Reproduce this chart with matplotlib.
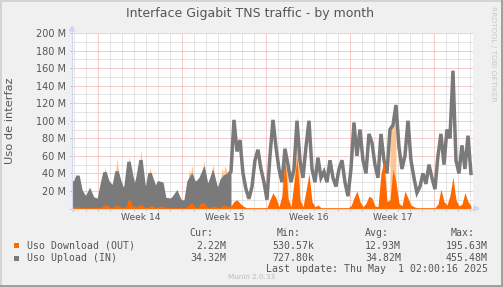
import numpy as np
import matplotlib
matplotlib.use('Agg')
import matplotlib.pyplot as plt
from matplotlib.patches import Rectangle, Polygon
from matplotlib.lines import Line2D

W, H = 503, 287

# traffic in M, one value every 6 hours from the left edge of the graph
upload = [30, 28, 37, 20, 14, 12, 19, 11, 10, 8,
          26, 41, 30, 26, 24, 42, 30, 21, 24, 53,
          35, 21, 35, 55, 26, 20, 40, 30, 21, 29,
          28, 10, 10, 9, 12, 17, 9, 7, 8, 30,
          36, 28, 30, 34, 42, 26, 28, 38, 25, 20,
          32, 36, 38, 42, 101, 65, 78, 40, 22, 11,
          25, 55, 67, 45, 30, 10, 60, 101, 70, 45,
          30, 68, 50, 30, 45, 100, 55, 35, 70, 100,
          45, 30, 58, 35, 42, 30, 55, 35, 25, 45,
          55, 30, 14, 45, 98, 60, 90, 55, 40, 85,
          75, 50, 35, 85, 55, 40, 90, 95, 118, 70,
          45, 60, 100, 55, 35, 18, 25, 40, 28, 50,
          35, 22, 60, 85, 50, 90, 80, 157, 55, 40,
          72, 45, 83, 40]
download = [2, 1, 2, 1, 1, 1, 1, 1, 1, 1,
            2, 5, 3, 1, 2, 4, 2, 1, 2, 12,
            4, 2, 3, 5, 2, 1, 3, 3, 1, 2,
            3, 1, 1, 1, 1, 1, 1, 1, 1, 5,
            6, 2, 1, 7, 6, 2, 1, 3, 2, 1,
            3, 4, 2, 3, 8, 10, 6, 3, 1, 1,
            1, 1, 1, 1, 1, 1, 10, 18, 12, 2,
            15, 55, 12, 2, 30, 58, 10, 2, 20, 40,
            8, 2, 4, 1, 1, 1, 1, 1, 1, 1,
            1, 1, 1, 3, 12, 20, 8, 2, 6, 14,
            12, 3, 2, 40, 55, 8, 10, 45, 30, 6,
            3, 20, 12, 4, 2, 1, 1, 1, 1, 1,
            1, 1, 5, 22, 8, 4, 15, 36, 10, 3,
            5, 18, 8, 3]
# short download peaks showing above the upload curve
peak_idx = [11, 15, 19, 23, 26, 39, 40, 44, 47, 50, 51, 71, 75, 107]
peak_val = [47, 57, 60, 67, 47, 44, 49, 55, 51, 46, 49, 72, 108, 100]
filled_until = 54

y_ticks = [20, 40, 60, 80, 100, 120, 140, 160, 180, 200]
week_names = ['Week 14', 'Week 15', 'Week 16', 'Week 17']
first_week = 2.17
span = 33.42

names = ['Uso Download (OUT)', 'Uso Upload (IN)']
cur = ['2.22M', '34.32M']
mins = ['530.57k', '727.80k']
avgs = ['12.93M', '34.82M']
maxs = ['195.63M', '455.48M']

c_out = '#ff6a00'
c_in = '#7a7a7a'
c_peak = '#ffc590'
c_axis = '#cfd6f8'
c_font = '#555555'

def px(x, y):
    return x / W, 1 - y / H

t = np.arange(len(upload)) * 0.25
upload = np.array(upload, dtype=float)
download = np.array(download, dtype=float)

fig = plt.figure(figsize=(W / 100, H / 100), dpi=100)
fig.patch.set_facecolor('#f0f0f0')
ax = fig.add_axes([72 / W, 1 - 208.5 / H, 401 / W, 175.5 / H])
ax.set_facecolor('white')
ax.set_xlim(0, span)
ax.set_ylim(0, 200)
for s in ax.spines.values():
    s.set_visible(False)

# grid
days = [first_week + k for k in range(-2, 32) if 0 < first_week + k < span]
weeks = [first_week + 7 * k for k in range(5)]
for v in range(10, 200, 20):
    ax.axhline(v, color='#cccccc', lw=0.72, ls=(0, (1, 1)), zorder=0.5)
for v in y_ticks:
    ax.axhline(v, color='#f09a9a', lw=0.72, ls=(0, (1, 1)), zorder=0.6)
for d in days:
    if min(abs(d - w) for w in weeks) > 0.1:
        ax.axvline(d, color='#cccccc', lw=0.72, ls=(0, (1, 1)), zorder=0.5)
for w in weeks:
    ax.axvline(w, color='#f09a9a', lw=0.72, ls=(0, (1, 1)), zorder=0.6)

# data
for i, v in zip(peak_idx, peak_val):
    ax.fill_between(t[i - 1:i + 2], 0, [upload[i - 1], v, upload[i + 1]],
                    color=c_peak, lw=0, zorder=1)
ax.fill_between(t[:filled_until], 0, upload[:filled_until], color=c_in, lw=0, zorder=2)
ax.plot(t, upload, color=c_in, lw=2.5, zorder=3, solid_joinstyle='miter')
ax.fill_between(t, 0, download, color=c_out, lw=0, zorder=4)

ax.set_xticks(days)
ax.set_xticklabels([])
ax.set_yticks(y_ticks)
ax.set_yticklabels(['%d M' % v for v in y_ticks])
ax.tick_params(axis='both', length=1.5, width=0.72, color='#bbbbbb',
               labelcolor=c_font, labelsize=7, pad=3)
for i, name in enumerate(week_names):
    ax.text(first_week + 7 * i + 3.6, -5, name, ha='center', va='top',
            fontsize=6.6, color=c_font)

# axes with arrows
fig.add_artist(Line2D([72 / W, 72 / W], [1 - 211 / H, 1 - 30 / H], color=c_axis, lw=0.8))
fig.add_artist(Line2D([69 / W, 475 / W], [1 - 208.5 / H, 1 - 208.5 / H], color=c_axis, lw=0.8))
fig.add_artist(Polygon([px(69.5, 31), px(74.5, 31), px(72, 26)], closed=True, color=c_axis))
fig.add_artist(Polygon([px(474, 206), px(474, 211), px(479, 208.5)], closed=True, color=c_axis))

# texts
fig.text(*px(250.5, 14), 'Interface Gigabit TNS traffic - by month', ha='center', va='center',
         fontsize=9, color=c_font)
fig.text(*px(10, 121), 'Uso de interfaz', rotation=90, ha='center', va='center',
         fontsize=8.2, color=c_font)
fig.text(*px(493, 54), 'RRDTOOL / TOBI OETIKER', rotation=270, ha='center', va='center',
         fontsize=5.4, color='#c8c8c8')

mono = dict(family='DejaVu Sans Mono', fontsize=7.1, color=c_font, va='center')
for x, label in zip([213, 301, 389, 475], ['Cur:', 'Min:', 'Avg:', 'Max:']):
    fig.text(*px(x, 233), label, ha='right', **mono)
for r, (name, col) in enumerate(zip(names, [c_out, c_in])):
    y = 245.7 + 12.6 * r
    fig.add_artist(Rectangle(px(14, y + 2.5), 5 / W, 5 / H, color=col, lw=0))
    fig.text(*px(27, y), name, ha='left', **mono)
    for x, val in zip([226, 314, 401, 488], [cur[r], mins[r], avgs[r], maxs[r]]):
        fig.text(*px(x, y), val, ha='right', **mono)
fig.text(*px(488, 269.3), 'Last update: Thu May  1 02:00:16 2025', ha='right', **mono)
fig.text(*px(252, 276.7), 'Munin 2.0.33', ha='center', va='center', fontsize=5.2, color='#bbbbbb')

# 3d frame
fig.add_artist(Rectangle((0, 1 - 2 / H), 1, 2 / H, color='#d4d4d4', lw=0))
fig.add_artist(Rectangle((0, 0), 2 / W, 1, color='#d4d4d4', lw=0))
fig.add_artist(Rectangle((0, 0), 1, 2 / H, color='#a0a0a0', lw=0))
fig.add_artist(Rectangle((1 - 2 / W, 0), 2 / W, 1, color='#a0a0a0', lw=0))

fig.savefig('out.png', dpi=100, facecolor=fig.get_facecolor())
